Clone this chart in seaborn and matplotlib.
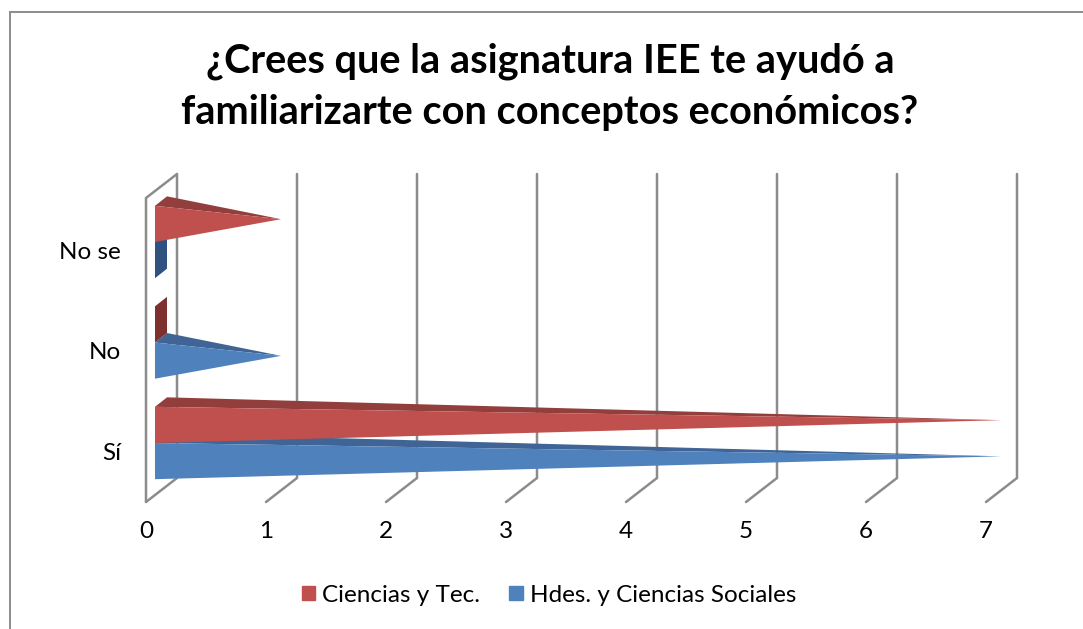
# %%
import matplotlib
matplotlib.use("Agg")
import matplotlib.pyplot as plt
import pandas as pd
import seaborn as sns
from matplotlib.patches import Polygon, Rectangle
from matplotlib.transforms import ScaledTranslation

# ---- #
# Data #
# ---- #
title = "¿Crees que la asignatura IEE te ayudó a\nfamiliarizarte con conceptos económicos?"
answers = ["No se", "No", "Sí"]
ciencias_tec = [1, 0, 7]
hdes_sociales = [0, 1, 7]
x_ticks = [0, 1, 2, 3, 4, 5, 6, 7]

df = pd.DataFrame({
    "respuesta": answers * 2,
    "valor": ciencias_tec + hdes_sociales,
    "grupo": ["Ciencias y Tec."] * 3 + ["Hdes. y Ciencias Sociales"] * 3,
})

RED, RED_DARK, RED_SIDE = "#c0504d", "#923e3c", "#7d302e"
BLUE, BLUE_DARK, BLUE_SIDE = "#4f81bd", "#3f6495", "#2f5280"
GRID = "#8c8c8c"
W, H = 1083, 629
TEXT_SIZE = 17.5

sns.set_theme(style="white")
plt.rcParams["font.family"] = ["Lato", "DejaVu Sans"]

fig = plt.figure(figsize=(W / 100, H / 100), dpi=100)
# front floor plane: x 146-986 px, y 198-502 px
ax = fig.add_axes([146 / W, 1 - 502 / H, 840 / W, 304 / H])

sns.barplot(
    data=df, y="respuesta", x="valor", hue="grupo", order=answers,
    palette=[RED, BLUE], width=0.72, gap=0, saturation=1, ax=ax, orient="h", legend=False,
)
ax.set_xlim(0, 7)
ax.set_ylim(2.587, -0.438)

# pixel depth of the fake 3D, as data units
px_x = 7 / 840
px_y = 3.025 / 304
wall_dx, wall_dy = 31 * px_x, 24 * px_y
near_dx = 9 * px_x
bar_dx, bar_dy = 12 * px_x, 9.5 * px_y

# ------------- #
# Walls / grid  #
# ------------- #
y_top, y_bottom = ax.get_ylim()[1], ax.get_ylim()[0]
for t in x_ticks:
    ax.plot([t, t + wall_dx, t + wall_dx],
            [y_bottom, y_bottom - wall_dy, y_top - wall_dy],
            color=GRID, lw=1.8, clip_on=False, zorder=1, solid_joinstyle="miter")
ax.plot([0, 0, wall_dx], [y_bottom, y_top, y_top - wall_dy],
        color=GRID, lw=1.8, clip_on=False, zorder=1, solid_joinstyle="miter")

# ------------------------------------------- #
# Turn seaborn bars into 3D triangles (cones) #
# ------------------------------------------- #
bars = list(ax.patches)
for bar in sorted(bars, key=lambda b: -b.get_y()):
    light = bar.get_facecolor()
    is_red = abs(light[0] - matplotlib.colors.to_rgba(RED)[0]) < 0.01
    dark, side = (RED_DARK, RED_SIDE) if is_red else (BLUE_DARK, BLUE_SIDE)
    y0, y1 = bar.get_y(), bar.get_y() + bar.get_height()
    v = bar.get_width()
    x0 = near_dx
    bar.set_visible(False)

    if v == 0:
        ax.add_patch(Polygon(
            [(x0, y0), (x0 + bar_dx, y0 - bar_dy), (x0 + bar_dx, y1 - bar_dy), (x0, y1)],
            color=side, lw=0, zorder=3, clip_on=False))
        continue

    tip = (v + near_dx + bar_dx / 2, (y0 + y1) / 2 - bar_dy / 2)
    ax.add_patch(Polygon([(x0, y0), (x0 + bar_dx, y0 - bar_dy), tip],
                         color=dark, lw=0, zorder=3, clip_on=False))
    ax.add_patch(Polygon([(x0, y0), (x0, y1), tip],
                         color=light, lw=0, zorder=3, clip_on=False))

# ---- #
# Axes #
# ---- #
sns.despine(ax=ax, left=True, bottom=True)
ax.set_xlabel("")
ax.set_ylabel("")
ax.set_xticks(x_ticks)
ax.tick_params(axis="x", length=0, pad=14, labelsize=TEXT_SIZE, colors="black")
ax.set_yticks(range(len(answers)))
ax.set_yticklabels(answers)
ax.tick_params(axis="y", length=0, pad=18, labelsize=TEXT_SIZE, colors="black")
shift = ScaledTranslation(0, -8 / 100, fig.dpi_scale_trans)
for lab in ax.get_yticklabels():
    lab.set_transform(lab.get_transform() + shift)

fig.text(550 / W, 1 - 87 / H, title, ha="center", va="center",
         fontsize=28.6, fontweight="bold", color="black", linespacing=1.46)

handles = [Rectangle((0, 0), 1, 1, color=RED), Rectangle((0, 0), 1, 1, color=BLUE)]
fig.legend(handles, ["Ciencias y Tec.", "Hdes. y Ciencias Sociales"],
           loc="center", bbox_to_anchor=(549 / W, 1 - 595 / H), ncol=2, frameon=False,
           fontsize=TEXT_SIZE, handlelength=0.55, handleheight=0.55, handletextpad=0.28,
           columnspacing=1.2, labelcolor="black")

# outer chart frame
fig.add_artist(Rectangle((10 / W, -0.02), 1.1, 1 - 12 / H + 0.02, transform=fig.transFigure,
                         fill=False, edgecolor=GRID, lw=1.4))

plt.savefig("out.png", dpi=100)
